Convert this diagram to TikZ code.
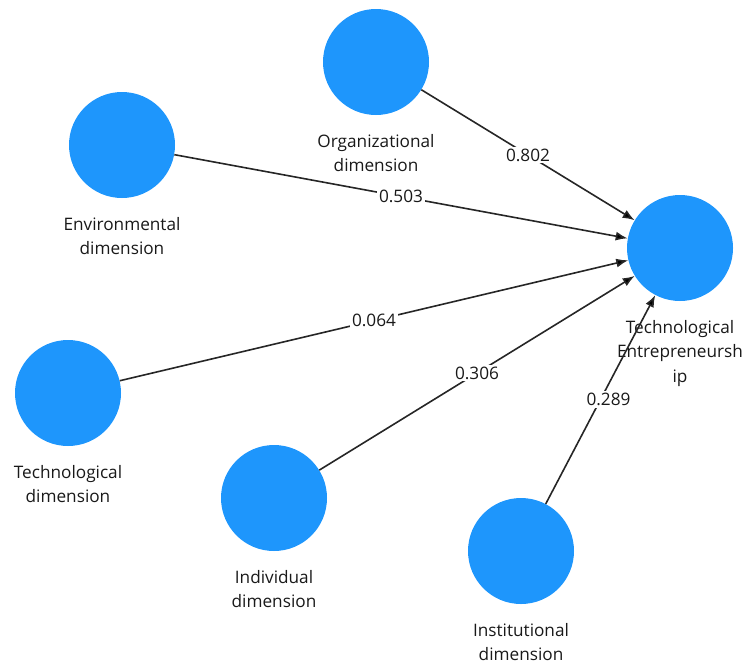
\documentclass[tikz,border=0pt]{standalone}
\usepackage{fontspec}
\setmainfont{Open Sans}
\usepackage{tikz}
\usetikzlibrary{positioning}
\usetikzlibrary{arrows.meta}
\definecolor{lvblue}{RGB}{30,150,252}
\definecolor{txtgray}{RGB}{25,25,25}

\begin{document}
\begin{tikzpicture}[x=1pt, y=-1pt]
	\useasboundingbox (0,0) rectangle (743,667);
	\begin{scope}[every node/.style={circle, fill=lvblue, minimum size=106pt, inner sep=0pt}]
	    \node (org) at (376,62) {};
	    \node (env) at (122,145) {};
	    \node (te) at (680,248) {};
	    \node (tech) at (68,393) {};
	    \node (ind) at (274,498) {};
	    \node (inst) at (521,551) {};
	\end{scope}
	\begin{scope}[every node/.style={align=center, inner sep=0pt, text=txtgray, font=\fontsize{17.2}{24.5}\selectfont}]
	    \node[below = 19pt of org] (orglab) {Organizational\\dimension};
	    \node[below = 19pt of env] (envlab) {Environmental\\dimension};
	    \node[below = 19pt of te] (telab) {Technological\\Entrepreneursh\\ip};
	    \node[below = 19pt of tech] (techlab) {Technological\\dimension};
	    \node[below = 19pt of ind] (indlab) {Individual\\dimension};
	    \node[below = 19pt of inst] (instlab) {Institutional\\dimension};
	\end{scope}

	\begin{scope}[every node/.style={fill=white, inner sep=2pt, text=txtgray, font=\fontsize{17.2}{20}\selectfont}]
	    \path [-{Latex[length=12pt,width=9pt]}, line width=1.6pt, draw=black!85] (org) edge node {0.802} (te);
	    \path [-{Latex[length=12pt,width=9pt]}, line width=1.6pt, draw=black!85] (env) edge node {0.503} (te);
	    \path [-{Latex[length=12pt,width=9pt]}, line width=1.6pt, draw=black!85] (tech) edge node {0.064} (te);
	    \path [-{Latex[length=12pt,width=9pt]}, line width=1.6pt, draw=black!85] (ind) edge node {0.306} (te);
	    \path [-{Latex[length=12pt,width=9pt]}, line width=1.6pt, draw=black!85] (inst) edge node [xshift=8pt] {0.289} (te);
	\end{scope}

\end{tikzpicture}
\end{document}
